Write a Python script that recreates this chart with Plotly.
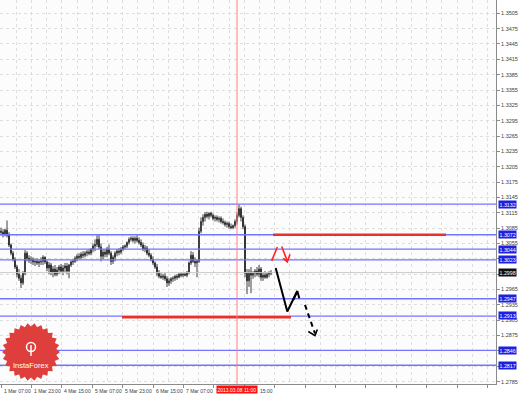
import math
import plotly.graph_objects as go

# ---------------- data ----------------
BAR_OPEN = [1.3079,1.3077,1.3073,1.3081,1.3071,1.3052,1.3036,1.3024,1.3009,1.2995,
            1.2987,1.2978,1.2997,1.3036,1.3026,1.3022,1.3024,1.3019,1.3020,1.3017,
            1.3019,1.3020,1.3028,1.3019,1.3007,1.3013,1.2999,1.3005,1.2995,1.3003,
            1.3009,1.3001,1.3007,1.3011,1.3001,1.3013,1.3019,1.3020,1.3026,1.3030,
            1.3028,1.3034,1.3032,1.3036,1.3038,1.3036,1.3044,1.3050,1.3053,1.3063,
            1.3048,1.3030,1.3038,1.3034,1.3044,1.3036,1.3020,1.3028,1.3036,1.3040,
            1.3038,1.3044,1.3048,1.3050,1.3057,1.3063,1.3065,1.3061,1.3065,1.3061,
            1.3057,1.3052,1.3044,1.3046,1.3036,1.3032,1.3024,1.3017,1.3009,1.2997,
            1.2991,1.2989,1.2991,1.2986,1.2978,1.2982,1.2986,1.2987,1.2991,1.2989,
            1.2995,1.2993,1.2995,1.2993,1.2999,1.3017,1.3032,1.3020,1.3017,1.3020,
            1.3079,1.3098,1.3106,1.3112,1.3108,1.3114,1.3110,1.3104,1.3106,1.3102,
            1.3104,1.3098,1.3096,1.3092,1.3094,1.3088,1.3086,1.3090,1.3098,1.3110,
            1.3123,1.3106,1.3088,1.2997,1.2982,1.2999,1.2993,1.2997,1.3001,1.2995,
            1.3005,1.2989,1.2993,1.2989,1.2995,1.2997]
BAR_HIGH = [1.3086,1.3083,1.3084,1.3100,1.3077,1.3055,1.3040,1.3028,1.3013,1.3005,
            1.2993,1.3001,1.3042,1.3040,1.3032,1.3030,1.3028,1.3026,1.3026,1.3024,
            1.3028,1.3032,1.3030,1.3022,1.3019,1.3017,1.3011,1.3013,1.3009,1.3013,
            1.3015,1.3013,1.3017,1.3017,1.3015,1.3022,1.3024,1.3030,1.3034,1.3036,
            1.3038,1.3040,1.3040,1.3042,1.3044,1.3046,1.3055,1.3063,1.3071,1.3073,
            1.3055,1.3044,1.3044,1.3048,1.3053,1.3040,1.3032,1.3040,1.3044,1.3046,
            1.3048,1.3052,1.3053,1.3059,1.3067,1.3069,1.3069,1.3069,1.3071,1.3067,
            1.3063,1.3057,1.3052,1.3050,1.3044,1.3036,1.3030,1.3020,1.3015,1.3003,
            1.2997,1.2995,1.2997,1.2991,1.2987,1.2989,1.2991,1.2993,1.2995,1.2997,
            1.2999,1.2997,1.2999,1.3001,1.3020,1.3040,1.3038,1.3028,1.3024,1.3086,
            1.3106,1.3112,1.3116,1.3117,1.3116,1.3117,1.3114,1.3110,1.3110,1.3108,
            1.3108,1.3104,1.3100,1.3098,1.3098,1.3094,1.3092,1.3102,1.3116,1.3131,
            1.3127,1.3110,1.3092,1.3005,1.3005,1.3009,1.3001,1.3005,1.3009,1.3013,
            1.3009,1.2999,1.3001,1.2999,1.3001,1.3003]
BAR_LOW = [1.3071,1.3067,1.3069,1.3067,1.3048,1.3032,1.3020,1.3005,1.2989,1.2982,
           1.2968,1.2974,1.2993,1.3020,1.3017,1.3015,1.3013,1.3011,1.3013,1.3009,
           1.3013,1.3013,1.3015,1.3001,1.2995,1.2993,1.2989,1.2991,1.2991,1.2995,
           1.2997,1.2993,1.2999,1.2995,1.2987,1.3009,1.3013,1.3017,1.3020,1.3024,
           1.3024,1.3026,1.3028,1.3030,1.3032,1.3032,1.3038,1.3040,1.3048,1.3044,
           1.3020,1.3024,1.3028,1.3028,1.3032,1.3013,1.3015,1.3020,1.3030,1.3032,
           1.3034,1.3040,1.3044,1.3046,1.3053,1.3059,1.3057,1.3055,1.3057,1.3053,
           1.3048,1.3040,1.3038,1.3032,1.3028,1.3020,1.3013,1.3005,1.2991,1.2987,
           1.2986,1.2984,1.2982,1.2970,1.2972,1.2976,1.2980,1.2982,1.2984,1.2987,
           1.2989,1.2989,1.2991,1.2989,1.2995,1.3013,1.3017,1.3009,1.2989,1.3017,
           1.3075,1.3090,1.3098,1.3104,1.3102,1.3106,1.3100,1.3098,1.3098,1.3096,
           1.3094,1.3092,1.3088,1.3086,1.3084,1.3083,1.3083,1.3086,1.3092,1.3106,
           1.3098,1.3083,1.2989,1.2956,1.2970,1.2958,1.2986,1.2989,1.2991,1.2989,
           1.2982,1.2982,1.2986,1.2986,1.2989,1.2993]
BAR_CLOSE = [1.3077,1.3073,1.3081,1.3071,1.3052,1.3036,1.3024,1.3009,1.2995,1.2987,
             1.2978,1.2997,1.3036,1.3026,1.3022,1.3024,1.3019,1.3020,1.3017,1.3019,
             1.3020,1.3028,1.3019,1.3007,1.3013,1.2999,1.3005,1.2995,1.3003,1.3009,
             1.3001,1.3007,1.3011,1.3001,1.3013,1.3019,1.3020,1.3026,1.3030,1.3028,
             1.3034,1.3032,1.3036,1.3038,1.3036,1.3044,1.3050,1.3053,1.3063,1.3048,
             1.3030,1.3038,1.3034,1.3044,1.3036,1.3020,1.3028,1.3036,1.3040,1.3038,
             1.3044,1.3048,1.3050,1.3057,1.3063,1.3065,1.3061,1.3065,1.3061,1.3057,
             1.3052,1.3044,1.3046,1.3036,1.3032,1.3024,1.3017,1.3009,1.2997,1.2991,
             1.2989,1.2991,1.2986,1.2978,1.2982,1.2986,1.2987,1.2991,1.2989,1.2995,
             1.2993,1.2995,1.2993,1.2999,1.3017,1.3032,1.3020,1.3017,1.3020,1.3079,
             1.3098,1.3106,1.3112,1.3108,1.3114,1.3110,1.3104,1.3106,1.3102,1.3104,
             1.3098,1.3096,1.3092,1.3094,1.3088,1.3086,1.3090,1.3098,1.3110,1.3123,
             1.3106,1.3088,1.2997,1.2982,1.2999,1.2993,1.2997,1.3001,1.2995,1.3005,
             1.2989,1.2993,1.2989,1.2995,1.2997,1.2998]

Y_TICKS = [1.2785, 1.2815, 1.2845, 1.2875, 1.2905, 1.2935, 1.2965, 1.2995, 1.3025,
           1.3055, 1.3085, 1.3115, 1.3145, 1.3175, 1.3205, 1.3235, 1.3265, 1.3295,
           1.3325, 1.3355, 1.3385, 1.3415, 1.3445, 1.3475, 1.3505]
Y_TICKS_HIDDEN = [1.2815, 1.2845, 1.2995, 1.3025]

# visible parts of the time labels (the last two are partly hidden by the cursor box)
X_LABELS = ["1 Mar 07:00", "1 Mar 23:00", "4 Mar 15:00", "5 Mar 07:00", "5 Mar 23:00",
            "6 Mar 15:00", "7 Mar 07:00", "7", "15:00"]
X_LABEL_BARS = [0, 15.2, 30.4, 45.6, 60.8, 76.0, 91.2, 106.2, 128.0]

CURSOR_BAR = 118
CURSOR_TEXT = "2013.03.08 11:00"

BLUE_LEVELS = [1.3132, 1.3072, 1.3044, 1.3023, 1.2947, 1.2913, 1.2846, 1.2817]
BID_LEVEL = 1.2998

RESIST_X = [136, 222.5]
RESIST_Y = [1.3072, 1.3072]
SUPPORT_X = [60.5, 145]
SUPPORT_Y = [1.2911, 1.2911]

RED_PATH_X = [135.35, 138.15, None, 140.35, 143.15, None, 141.15, 143.15, 144.5]
RED_PATH_Y = [1.3021, 1.3048, None, 1.3049, 1.3021, None, 1.3026, 1.3019, 1.3034]
BLACK_PATH_X = [137.35, 143.15, 148.15, None, 146.15, 148.15, 149.15]
BLACK_PATH_Y = [1.3007, 1.2922, 1.2962, None, 1.2945, 1.2962, 1.2948]
BLACK_DASH_X = [152, 157]
BLACK_DASH_Y = [1.2935, 1.2879]
BLACK_HEAD_X = [153.65, 157, 158.15]
BLACK_HEAD_Y = [1.2883, 1.2875, 1.2887]

# ---------------- figure ----------------
W, H = 519, 394
ML, MR, MT, MB = 0, 23, 0, 10
PW, PH = W - ML - MR, H - MT - MB
FONT = "Liberation Sans"
GRID = "#dedede"
X_RANGE = [-0.5, (PW - 1) / 2]

fig = go.Figure()

fig.add_trace(go.Scatter(x=X_RANGE, y=[BID_LEVEL, BID_LEVEL], mode="lines",
                         line=dict(color="#c8c8c8", width=1), showlegend=False, hoverinfo="skip"))
for lv in BLUE_LEVELS:
    fig.add_trace(go.Scatter(x=X_RANGE, y=[lv, lv], mode="lines",
                             line=dict(color="#7474ff", width=1.4), showlegend=False, hoverinfo="skip"))

fig.add_trace(go.Candlestick(
    x=list(range(len(BAR_CLOSE))), open=BAR_OPEN, high=BAR_HIGH, low=BAR_LOW, close=BAR_CLOSE,
    increasing=dict(line=dict(color="#2a2a2a", width=0.9), fillcolor="#ffffff"),
    decreasing=dict(line=dict(color="#2a2a2a", width=0.9), fillcolor="#2a2a2a"),
    whiskerwidth=0, showlegend=False, hoverinfo="skip"))

red = "#e8302c"
fig.add_trace(go.Scatter(x=RESIST_X, y=RESIST_Y, mode="lines", line=dict(color=red, width=2.5),
                         showlegend=False, hoverinfo="skip"))
fig.add_trace(go.Scatter(x=SUPPORT_X, y=SUPPORT_Y, mode="lines", line=dict(color=red, width=2.5),
                         showlegend=False, hoverinfo="skip"))
fig.add_trace(go.Scatter(x=RED_PATH_X, y=RED_PATH_Y, mode="lines", line=dict(color="#ff2222", width=1.6),
                         showlegend=False, hoverinfo="skip", connectgaps=False))
fig.add_trace(go.Scatter(x=BLACK_PATH_X, y=BLACK_PATH_Y, mode="lines", line=dict(color="#000000", width=2),
                         showlegend=False, hoverinfo="skip", connectgaps=False))
fig.add_trace(go.Scatter(x=BLACK_DASH_X, y=BLACK_DASH_Y, mode="lines",
                         line=dict(color="#000000", width=2, dash="5px,4px"),
                         showlegend=False, hoverinfo="skip"))
fig.add_trace(go.Scatter(x=BLACK_HEAD_X, y=BLACK_HEAD_Y, mode="lines", line=dict(color="#000000", width=1.6),
                         showlegend=False, hoverinfo="skip"))

shapes = []
shapes.append(dict(type="line", xref="x", x0=CURSOR_BAR, x1=CURSOR_BAR, yref="paper", y0=0, y1=1,
                   line=dict(color="#ff8080", width=1), layer="above"))

# InstaForex seal (decorative logo)
def px2paper(px, py):
    return px / PW, 1 - py / PH

cx, cy, r_out, r_in, teeth = 31, 352, 29, 25.5, 26
pts = []
for k in range(teeth * 2):
    a = math.pi * k / teeth
    r = r_out if k % 2 == 0 else r_in
    pts.append(px2paper(cx + r * math.cos(a), cy + r * math.sin(a)))
path = "M " + " L ".join(f"{x:.5f},{y:.5f}" for x, y in pts) + " Z"
shapes.append(dict(type="path", xref="paper", yref="paper", path=path,
                   fillcolor="#de3f3d", line=dict(width=0), layer="above"))
ex0, ey0 = px2paper(cx - 4.5, 347 - 4.5)
ex1, ey1 = px2paper(cx + 4.5, 347 + 4.5)
shapes.append(dict(type="circle", xref="paper", yref="paper", x0=ex0, x1=ex1, y0=ey1, y1=ey0,
                   line=dict(color="white", width=1.5), layer="above"))
lx0, ly0 = px2paper(cx, 345)
lx1, ly1 = px2paper(cx, 356)
shapes.append(dict(type="line", xref="paper", yref="paper", x0=lx0, x1=lx1, y0=ly0, y1=ly1,
                   line=dict(color="white", width=1.5), layer="above"))

annotations = []
tx, ty = px2paper(cx, 365)
annotations.append(dict(xref="paper", yref="paper", x=tx, y=ty, text="InstaForex", showarrow=False,
                        font=dict(family=FONT, size=7.5, color="white"), xanchor="center", yanchor="middle"))

for xb, lab in zip(X_LABEL_BARS, X_LABELS):
    annotations.append(dict(xref="x", yref="paper", x=xb, y=0, text=lab, showarrow=False,
                            xanchor="left", yanchor="top", xshift=0.5, yshift=-1.5,
                            font=dict(family=FONT, size=5, color="#3c3c3c")))
annotations.append(dict(xref="x", yref="paper", x=CURSOR_BAR, y=0, text=CURSOR_TEXT, showarrow=False,
                        xanchor="center", yanchor="top", yshift=-1, bgcolor="#ff1010", borderpad=0.5,
                        font=dict(family=FONT, size=5, color="white")))
for lv in BLUE_LEVELS:
    annotations.append(dict(xref="paper", yref="y", x=1, y=lv, text=f"{lv:.4f}", showarrow=False,
                            xanchor="left", yanchor="middle", xshift=2, bgcolor="#1f1fe0", borderpad=0.5,
                            yshift=1 if lv == 1.2913 else 0,
                            font=dict(family=FONT, size=5.3, color="white")))
annotations.append(dict(xref="paper", yref="y", x=1, y=BID_LEVEL, text=f"{BID_LEVEL:.4f}", showarrow=False,
                        xanchor="left", yanchor="middle", xshift=2, bgcolor="#101010", borderpad=0.5,
                        font=dict(family=FONT, size=5.3, color="white")))

y_text = ["" if v in Y_TICKS_HIDDEN else f"{v:.4f}" for v in Y_TICKS]

fig.update_layout(
    width=W, height=H, margin=dict(l=ML, r=MR, t=MT, b=MB, pad=0),
    paper_bgcolor="#ffffff", plot_bgcolor="#fbfcfb",
    shapes=shapes, annotations=annotations, showlegend=False,
    font=dict(family=FONT, size=5.5, color="#3c3c3c"),
)
fig.update_xaxes(range=X_RANGE, rangeslider=dict(visible=False),
                 tickmode="linear", tick0=0, dtick=15.2, ticks="outside", ticklen=3, tickcolor="#8a8a8a",
                 showticklabels=False, showgrid=True, gridcolor=GRID, griddash="dot", gridwidth=1,
                 minor=dict(tick0=0, dtick=7.6, showgrid=True, gridcolor=GRID, griddash="dot", gridwidth=1, ticks=""),
                 showline=True, linecolor="#8a8a8a", linewidth=1, zeroline=False, fixedrange=True)
fig.update_yaxes(side="right", range=[1.27803, 1.35310], tickmode="array", tickvals=Y_TICKS, ticktext=y_text,
                 ticks="outside", ticklen=3, tickcolor="#8a8a8a",
                 tickfont=dict(family=FONT, size=5.5, color="#3c3c3c"),
                 showgrid=True, gridcolor=GRID, griddash="dot", gridwidth=1,
                 showline=True, linecolor="#8a8a8a", linewidth=1, zeroline=False, fixedrange=True)

fig.write_html("out.html")
